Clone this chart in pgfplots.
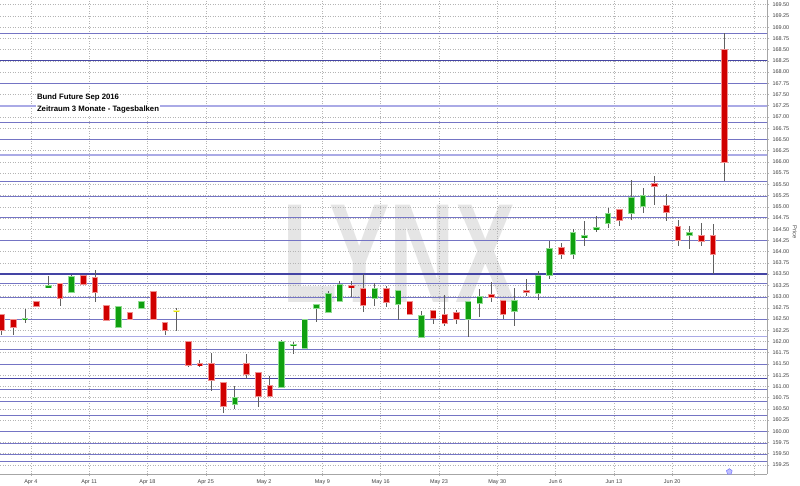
\documentclass[border=0pt]{standalone}
\usepackage{pgfplots}
\pgfplotsset{compat=1.18}
\usepackage{pgfplotstable}
\usepackage{fontspec}
\setmainfont{Liberation Sans}

\definecolor{rcore}{HTML}{D00000}
\definecolor{rrim}{HTML}{F09090}
\definecolor{gcore}{HTML}{10A010}
\definecolor{grim}{HTML}{90DC90}
\definecolor{ycore}{HTML}{E6E600}
\definecolor{yrim}{HTML}{F6F6A0}
\definecolor{wick}{HTML}{606060}
\definecolor{lvl}{HTML}{7474C4}
\definecolor{lvldark}{HTML}{4444A4}
\definecolor{lvllight}{HTML}{AAAAE6}
\definecolor{gridc}{HTML}{B4B4B4}

% i = trading day index (0 = Mar 30, 2016), o h l c
\pgfplotstableread{
i o h l c
0 162.59 162.59 162.14 162.24
1 162.49 162.49 162.14 162.32
3 162.88 162.88 162.77 162.77
5 163.28 163.28 162.80 162.96
7 163.47 163.47 163.28 163.28
8 163.43 163.60 162.87 163.09
9 162.79 162.79 162.47 162.47
11 162.64 162.64 162.50 162.50
13 163.11 163.11 162.49 162.49
14 162.43 162.43 162.14 162.24
16 162.00 162.00 161.43 161.47
17 161.50 161.59 161.43 161.46
18 161.50 161.75 160.90 161.12
19 161.09 161.09 160.40 160.55
21 161.50 161.71 161.17 161.27
22 161.31 161.31 160.54 160.78
23 161.03 161.23 160.77 160.77
30 163.24 163.35 162.99 163.20
31 163.19 163.50 162.66 162.81
33 163.18 163.23 162.77 162.86
35 162.88 162.88 162.61 162.61
37 162.70 162.70 162.38 162.52
38 162.61 163.04 162.34 162.40
39 162.65 162.71 162.38 162.49
42 163.05 163.33 162.87 162.98
43 162.91 162.91 162.49 162.60
45 163.13 163.39 163.01 163.10
48 164.09 164.20 163.84 163.94
53 164.95 164.95 164.57 164.70
56 165.52 165.68 165.05 165.45
57 165.04 165.28 164.69 164.87
58 164.57 164.70 164.13 164.24
60 164.37 164.65 164.13 164.22
61 164.35 164.61 163.50 163.94
62 168.50 168.87 165.57 165.99
}\redT

\pgfplotstableread{
i o h l c
2 162.48 162.72 162.42 162.51
4 163.20 163.45 163.20 163.24
6 163.10 163.48 163.10 163.45
10 162.32 162.77 162.32 162.77
12 162.73 162.90 162.73 162.90
20 160.59 161.00 160.49 160.75
24 160.98 162.04 160.96 162.00
25 161.90 162.00 161.73 161.94
26 161.84 162.49 161.84 162.49
27 162.73 162.83 162.44 162.83
28 162.65 163.12 162.65 163.06
29 162.90 163.35 162.90 163.28
32 162.96 163.30 162.79 163.18
34 162.83 163.14 162.49 163.14
36 162.10 162.68 162.10 162.59
40 162.49 162.91 162.10 162.88
41 162.85 163.17 162.55 163.00
44 162.66 163.19 162.34 162.92
46 163.07 163.57 162.93 163.48
47 163.48 164.24 163.39 164.07
49 163.94 164.50 163.83 164.43
50 164.32 164.69 164.13 164.35
51 164.50 164.80 164.43 164.53
52 164.63 164.97 164.53 164.84
54 164.86 165.59 164.70 165.20
55 165.01 165.41 164.86 165.24
59 164.37 164.57 164.05 164.43
}\greenT

\pgfplotstableread{
i o h l c
15 162.66 162.74 162.23 162.70
}\yellowT

\pgfplotsset{
  wickplot/.style={forget plot, draw=none, error bars/.cd, y dir=both, y explicit,
    error mark=none, error bar style={draw=wick, line width=0.9bp}},
  rimplot/.style={forget plot, draw=none, error bars/.cd, y dir=both, y explicit,
    error mark=none, error bar style={draw=#1, line width=6.6bp}},
  coreplot/.style={forget plot, draw=none, error bars/.cd, y dir=both, y explicit,
    error mark=none, error bar style={draw=#1, line width=4.8bp}},
}

\newcommand{\candles}[3]{%
  \addplot[wickplot] table[x=i, y expr={(\thisrow{h}+\thisrow{l})/2},
     y error expr={(\thisrow{h}-\thisrow{l})/2}] {#1};
  \addplot[rimplot=#2] table[x=i, y expr={(\thisrow{o}+\thisrow{c})/2},
     y error expr={abs(\thisrow{o}-\thisrow{c})/2+0.011}] {#1};
  \addplot[coreplot=#3] table[x=i, y expr={(\thisrow{o}+\thisrow{c})/2},
     y error expr={max(abs(\thisrow{o}-\thisrow{c})/2-0.011,0.008)}] {#1};
}

\begin{document}
\begin{tikzpicture}
\useasboundingbox (0,-12bp) rectangle (800bp,474bp);
% watermark
\node[font=\bfseries\fontsize{142}{142}\selectfont, text=black!10, xscale=0.64, inner sep=0pt]
  at (399bp,220bp) {LYNX};
\begin{axis}[
  at={(0,0)}, anchor=south west,
  scale only axis, width=767bp, height=474bp,
  xmin=-0.146, xmax=65.63, ymin=159.048, ymax=169.605,
  axis x line*=bottom, axis y line*=right,
  axis line style={draw=gray!70, line width=0.6bp},
  tick align=outside, major tick length=2bp,
  tick style={draw=gray!60, line width=0.5bp},
  xtick={2.5,7.5,...,57.5},
  xticklabels={Apr 4,Apr 11,Apr 18,Apr 25,May 2,May 9,May 16,May 23,May 30,Jun 6,Jun 13,Jun 20},
  extra x ticks={64.5}, extra x tick labels={},
  extra x tick style={grid=major},
  ytick distance=0.25,
  grid=major,
  major grid style={draw=gridc, dash pattern=on 1bp off 1.5bp, line width=0.5bp},
  xticklabel style={font=\fontsize{5.5}{6}\selectfont, text=black!75},
  yticklabel style={font=\fontsize{5.5}{6}\selectfont, text=black!75,
    /pgf/number format/.cd, fixed, fixed zerofill, precision=2, assume math mode=true},
  clip=true,
]
% horizontal level lines
\pgfplotsinvokeforeach{168.86,167.75,166.88,166.50,165.57,165.22,164.77,164.25,163.30,162.98,162.49,161.83,161.49,160.94,160.67,160.36,160.00,159.73,159.49,159.32}{
  \addplot[forget plot, draw=lvl, line width=0.8bp] coordinates {(-1,#1) (70,#1)};
}
\pgfplotsinvokeforeach{167.25,166.15,162.11}{
  \addplot[forget plot, draw=lvllight, line width=1.8bp] coordinates {(-1,#1) (70,#1)};
}
\pgfplotsinvokeforeach{168.25,163.50,161.18}{
  \addplot[forget plot, draw=lvldark, line width=1.3bp] coordinates {(-1,#1) (70,#1)};
}
% candles
\candles{\redT}{rrim}{rcore}
\candles{\greenT}{grim}{gcore}
\candles{\yellowT}{yrim}{ycore}
% event marker
\addplot[forget plot, only marks, mark=pentagon*, mark size=3bp,
  mark options={fill=blue!25, draw=blue!55, line width=0.5bp}] coordinates {(62.4,159.10)};
\end{axis}
\node[anchor=base west, fill=white, inner sep=0.8bp, font=\bfseries\fontsize{7.8}{9}\selectfont]
  at (36bp,374.5bp) {Bund Future Sep 2016};
\node[anchor=base west, fill=white, inner sep=0.8bp, font=\bfseries\fontsize{7.8}{9}\selectfont]
  at (36bp,362.9bp) {Zeitraum 3 Monate - Tagesbalken};
\node[rotate=-90, font=\fontsize{5.8}{6}\selectfont, text=black!70] at (795bp,242bp) {Price};
\end{tikzpicture}
\end{document}
